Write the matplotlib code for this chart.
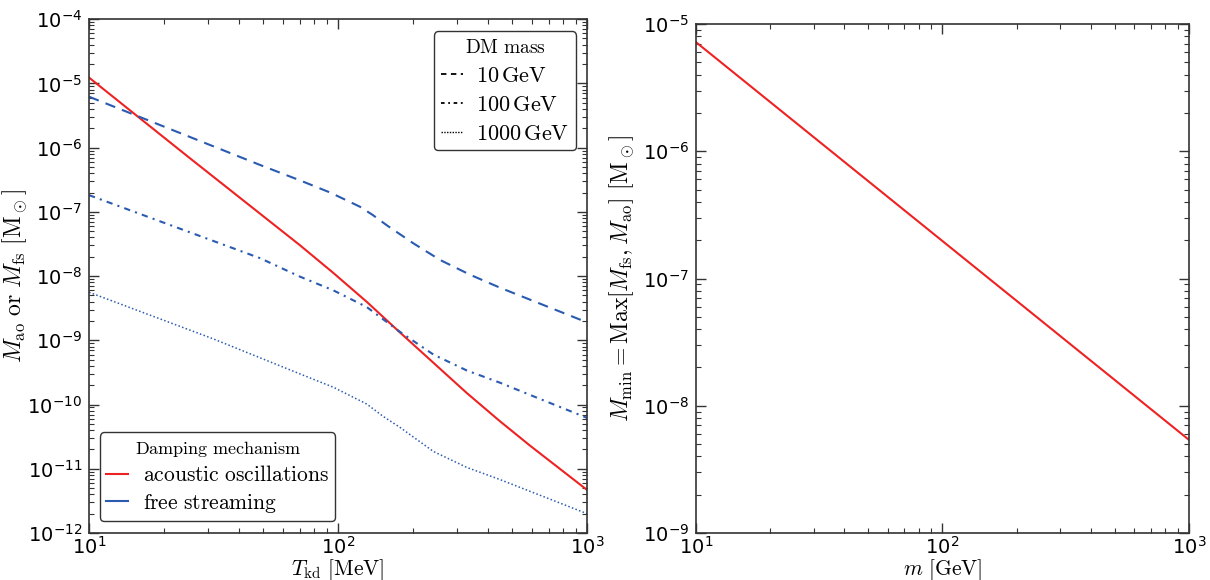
import matplotlib
matplotlib.use("Agg")
import matplotlib.pyplot as plt
from matplotlib.lines import Line2D
from matplotlib.ticker import LogLocator, LogFormatterSciNotation
import numpy as np

plt.rcParams['mathtext.fontset'] = 'cm'
plt.rcParams['axes.unicode_minus'] = False
plt.rcParams['font.family'] = ['DejaVu Sans']

# ---- Left panel data (T_kd in MeV, mass in solar masses) ----
T_ao = [10, 25.1, 70.3, 95.7, 130.3, 177.4, 241.5, 328.9, 446.7, 590.2, 1000]
M_ao = [1.23e-5, 7.1e-7, 3.02e-8, 1.12e-8, 3.98e-9, 1.32e-9, 4.47e-10,
        1.51e-10, 5.5e-11, 2.29e-11, 4.68e-12]

T_10 = [10, 22.4, 48.6, 70.3, 92.9, 122.5, 138.0, 157.0, 200.5, 257.0, 338.8, 446.7, 1000]
M_10 = [6.2e-6, 1.78e-6, 5.37e-7, 3.09e-7, 2.0e-7, 1.2e-7, 8.9e-8, 6.17e-8, 3.24e-8,
        1.78e-8, 1.05e-8, 6.6e-9, 1.9e-9]

T_100 = [10, 48.6, 70.3, 95.7, 130.3, 177.4, 241.5, 328.9, 446.7, 572.8, 1000]
M_100 = [1.82e-7, 1.9e-8, 9.8e-9, 6.0e-9, 3.3e-9, 1.35e-9, 6.0e-10, 3.39e-10,
         2.19e-10, 1.48e-10, 6.2e-11]

T_1000 = [10, 31.6, 70.3, 95.7, 130.3, 152.1, 177.4, 241.5, 328.9, 446.7, 1000]
M_1000 = [5.6e-9, 1.05e-9, 3.0e-10, 1.86e-10, 1.02e-10, 6.5e-11, 4.4e-11, 1.86e-11,
          1.05e-11, 6.8e-12, 2.0e-12]

# ---- Right panel data (m in GeV) ----
m_dm = [10, 100, 1000]
M_min = [7.2e-6, 1.97e-7, 5.4e-9]

RED = '#ee2222'
BLUE = '#2a5bb0'
SPINE = '#333333'

fig = plt.figure(figsize=(12.1, 5.8), dpi=100)
ax1 = fig.add_axes([0.0736, 0.081, 0.4116, 0.886])
ax2 = fig.add_axes([0.5752, 0.081, 0.4074, 0.8776])

lw = 1.5
ax1.plot(T_ao, M_ao, color=RED, lw=lw)
ax1.plot(T_10, M_10, color=BLUE, lw=lw, ls=(0, (5, 3.5)))
ax1.plot(T_100, M_100, color=BLUE, lw=lw, ls=(0, (3, 2.5, 1, 2.5)))
ax1.plot(T_1000, M_1000, color=BLUE, lw=1.1, ls=(0, (1, 1.5)))

ax2.plot(m_dm, M_min, color=RED, lw=lw)

for ax in (ax1, ax2):
    ax.set_xscale('log')
    ax.set_yscale('log')
    ax.tick_params(which='both', direction='in', top=True, right=True,
                   color=SPINE, labelsize=14)
    ax.tick_params(which='major', length=7, width=1)
    ax.tick_params(which='minor', length=3.5, width=0.8)
    ax.tick_params(axis='x', which='major', pad=2)
    ax.tick_params(axis='y', which='major', pad=5)
    for s in ax.spines.values():
        s.set_color(SPINE)
        s.set_linewidth(1.2)
    ax.xaxis.set_major_formatter(LogFormatterSciNotation())
    ax.yaxis.set_major_formatter(LogFormatterSciNotation())

ax1.set_xlim(10, 1000)
ax1.set_ylim(1e-12, 1e-4)
ax1.yaxis.set_major_locator(LogLocator(base=10, numticks=20))
ax1.yaxis.set_minor_locator(LogLocator(base=10, subs=np.arange(2, 10), numticks=20))
ax1.set_xlabel(r'$T_{\rm kd}\ [\mathrm{MeV}]$', fontsize=15.5, labelpad=0)
ax1.set_ylabel(r'$M_{\rm ao}\ \mathrm{or}\ M_{\rm fs}\ [\mathrm{M}_\odot]$', fontsize=17, labelpad=-1)

ax2.set_xlim(10, 1000)
ax2.set_ylim(1e-9, 1e-5)
ax2.set_xlabel(r'$m\ [\mathrm{GeV}]$', fontsize=15.5, labelpad=0)
ax2.set_ylabel(r'$M_{\rm min} = \mathrm{Max}[M_{\rm fs}, M_{\rm ao}]\ [\mathrm{M}_\odot]$', fontsize=17, labelpad=5)

# Legends
dm_handles = [Line2D([], [], color='black', lw=1.3, ls=(0, (3, 2.5))),
              Line2D([], [], color='black', lw=1.3, ls=(0, (2, 2, 1, 2))),
              Line2D([], [], color='black', lw=1.0, ls=(0, (1, 1)))]
dm_labels = [r'$10\,\mathrm{GeV}$', r'$100\,\mathrm{GeV}$', r'$1000\,\mathrm{GeV}$']
leg1 = ax1.legend(dm_handles, dm_labels, loc='upper right',
                  title=r'$\mathrm{DM\ mass}$', fontsize=16, title_fontsize=14,
                  handlelength=1.0, handletextpad=0.6, labelspacing=0.4,
                  borderpad=0.3, borderaxespad=0, fancybox=True, framealpha=1,
                  bbox_to_anchor=(0.978, 0.976))
leg1.get_frame().set_edgecolor(SPINE)
leg1.get_frame().set_linewidth(1.0)
ax1.add_artist(leg1)

dmp_handles = [Line2D([], [], color=RED, lw=1.5), Line2D([], [], color=BLUE, lw=1.5)]
dmp_labels = [r'$\mathrm{acoustic\ oscillations}$', r'$\mathrm{free\ streaming}$']
leg2 = ax1.legend(dmp_handles, dmp_labels, loc='lower left',
                  title=r'$\mathrm{Damping\ mechanism}$', fontsize=15.5, title_fontsize=13,
                  handlelength=1.0, handletextpad=0.7, labelspacing=0.3,
                  borderpad=0.3, borderaxespad=0, fancybox=True, framealpha=1,
                  bbox_to_anchor=(0.022, 0.023))
leg2.get_frame().set_edgecolor(SPINE)
leg2.get_frame().set_linewidth(1.0)

fig.savefig('out.png', dpi=100)
